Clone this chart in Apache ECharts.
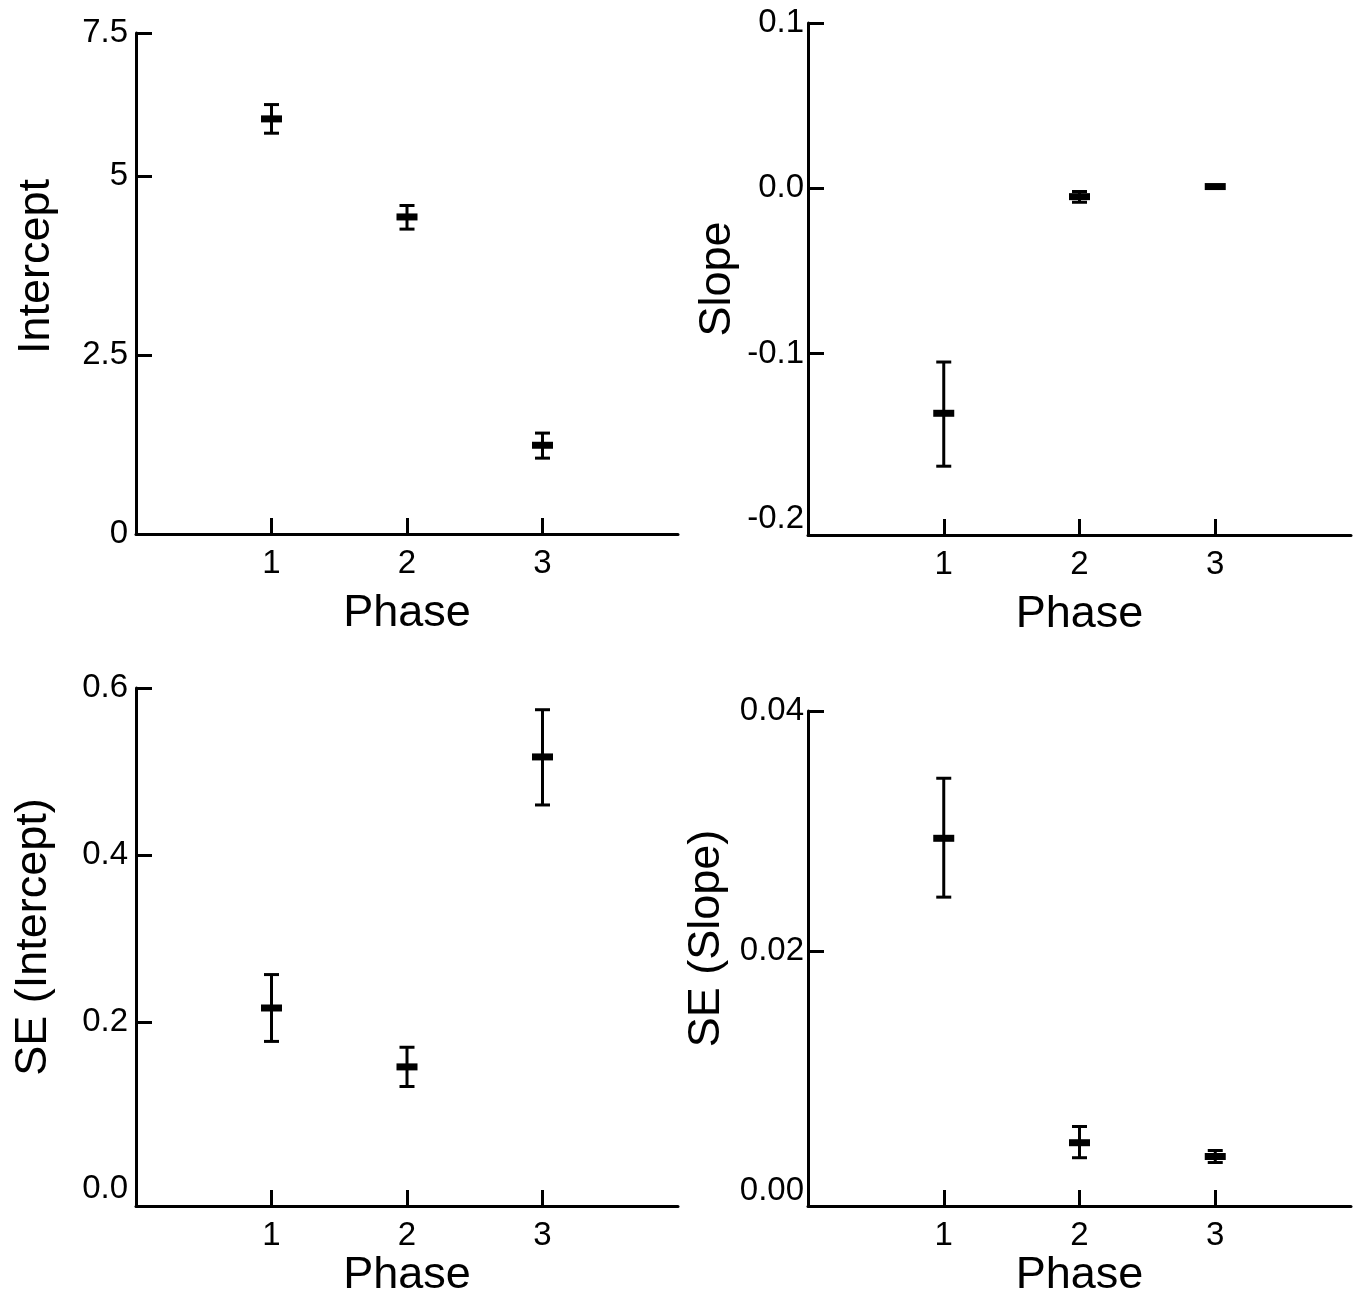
<!DOCTYPE html>
<html>
<head>
<meta charset="utf-8">
<script src="https://cdn.jsdelivr.net/npm/echarts@6/dist/echarts.min.js"></script>
<style>
html,body{margin:0;padding:0;background:#fff;}
#chart{width:1362px;height:1305px;}
</style>
</head>
<body>
<div id="chart"></div>
<script>
// ---- data ----
const phases = [1, 2, 3];

const interceptMean = [5.80, 4.43, 1.24];
const interceptLow  = [5.60, 4.26, 1.06];
const interceptHigh = [6.00, 4.59, 1.41];

const slopeMean = [-0.136, -0.005, 0.0011];
const slopeLow  = [-0.168, -0.0084, 0.0007];
const slopeHigh = [-0.105, -0.0019, 0.0015];

const seInterceptMean = [0.217, 0.1465, 0.5175];
const seInterceptLow  = [0.177, 0.123, 0.460];
const seInterceptHigh = [0.257, 0.170, 0.574];

const seSlopeMean = [0.0294, 0.00405, 0.0029];
const seSlopeLow  = [0.0245, 0.0028, 0.0024];
const seSlopeHigh = [0.0344, 0.0054, 0.0034];

// tick labels (values and texts as printed)
const xTickValues = [1, 2, 3];
const xTickLabels = ['1', '2', '3'];
const interceptTickValues = [0, 2.5, 5, 7.0];
const interceptTickLabels = ['0', '2.5', '5', '7.5'];
const slopeTickValues = [-0.2, -0.1, 0, 0.1];
const slopeTickLabels = ['-0.2', '-0.1', '0.0', '0.1'];
const seInterceptTickValues = [0, 0.2, 0.4, 0.6];
const seInterceptTickLabels = ['0.0', '0.2', '0.4', '0.6'];
const seSlopeTickValues = [0, 0.02, 0.04];
const seSlopeTickLabels = ['0.00', '0.02', '0.04'];

const xName = 'Phase';
const yNames = ['Intercept', 'Slope', 'SE (Intercept)', 'SE (Slope)'];

// ---- build ----
const FONT = 'Liberation Sans, Arial, Helvetica, sans-serif';
const INK = '#000';
const NAME_SIZE = 45;
const TICK_SIZE = 33;

function rows(mean, low, high) {
  return phases.map((p, i) => [p, mean[i], low[i], high[i]]);
}

function renderItem(params, api) {
  const x = api.value(0);
  const pm = api.coord([x, api.value(1)]);
  const pl = api.coord([x, api.value(2)]);
  const ph = api.coord([x, api.value(3)]);
  const st = { stroke: INK, lineWidth: 3 };
  const cap = 7.5;
  return {
    type: 'group',
    children: [
      { type: 'line', shape: { x1: pm[0], y1: pl[1], x2: pm[0], y2: ph[1] }, style: st },
      { type: 'line', shape: { x1: pm[0] - cap, y1: pl[1], x2: pm[0] + cap, y2: pl[1] }, style: st },
      { type: 'line', shape: { x1: pm[0] - cap, y1: ph[1], x2: pm[0] + cap, y2: ph[1] }, style: st },
      { type: 'rect', shape: { x: pm[0] - 10.5, y: pm[1] - 3.5, width: 21, height: 7 }, style: { fill: INK } }
    ]
  };
}

const panels = [
  { grid: { left: 136, top: 33, width: 542, height: 501 }, min: 0, max: 7.0,
    tv: interceptTickValues, tl: interceptTickLabels, data: rows(interceptMean, interceptLow, interceptHigh),
    yGap: 77, yPad: [0, 0, 0, 34], xGap: 57, yMargin: 8 },
  { grid: { left: 808, top: 23, width: 543, height: 512 }, min: -0.2096, max: 0.1,
    tv: slopeTickValues, tl: slopeTickLabels, data: rows(slopeMean, slopeLow, slopeHigh),
    yGap: 68, yPad: [0, 0, 0, 0], xGap: 57, yMargin: 4 },
  { grid: { left: 136, top: 688, width: 542, height: 518 }, min: -0.02, max: 0.6,
    tv: seInterceptTickValues, tl: seInterceptTickLabels, data: rows(seInterceptMean, seInterceptLow, seInterceptHigh),
    yGap: 80, yPad: [0, 0, 0, 20], xGap: 41, yMargin: 8 },
  { grid: { left: 808, top: 711, width: 543, height: 495 }, min: -0.00122, max: 0.04,
    tv: seSlopeTickValues, tl: seSlopeTickLabels, data: rows(seSlopeMean, seSlopeLow, seSlopeHigh),
    yGap: 79, yPad: [0, 0, 0, 40], xGap: 43, yMargin: 4 }
];

const axisLine = { show: true, onZero: false, lineStyle: { color: INK, width: 3 } };

const option = {
  animation: false,
  backgroundColor: '#fff',
  textStyle: { fontFamily: FONT, color: INK },
  grid: panels.map(p => Object.assign({ containLabel: false }, p.grid)),
  xAxis: panels.map((p, i) => ({
    type: 'value', gridIndex: i, min: 0, max: 4,
    name: xName, nameLocation: 'middle', nameGap: p.xGap,
    nameTextStyle: { fontSize: NAME_SIZE, fontFamily: FONT, color: INK },
    axisLine: axisLine,
    axisTick: { show: true, inside: true, length: 16, customValues: xTickValues,
      lineStyle: { color: INK, width: 3 } },
    axisLabel: { show: true, customValues: xTickValues, margin: 13, fontSize: TICK_SIZE, fontFamily: FONT, color: INK,
      formatter: v => xTickLabels[xTickValues.indexOf(v)] },
    splitLine: { show: false }
  })),
  yAxis: panels.map((p, i) => ({
    type: 'value', gridIndex: i, min: p.min, max: p.max,
    name: yNames[i], nameLocation: 'middle', nameGap: p.yGap,
    nameTextStyle: { fontSize: NAME_SIZE, fontFamily: FONT, color: INK, padding: p.yPad },
    axisLine: axisLine,
    axisTick: { show: true, inside: true, length: 16, customValues: p.tv.slice(1),
      lineStyle: { color: INK, width: 3 } },
    axisLabel: { show: true, customValues: p.tv, margin: p.yMargin, fontSize: TICK_SIZE, fontFamily: FONT, color: INK,
      formatter: v => {
        const k = p.tv.findIndex(t => Math.abs(t - v) < 1e-9);
        return k >= 0 ? p.tl[k] : '';
      } },
    splitLine: { show: false }
  })),
  series: panels.map((p, i) => ({
    type: 'custom', xAxisIndex: i, yAxisIndex: i,
    renderItem: renderItem,
    encode: { x: 0, y: [1, 2, 3] },
    data: p.data,
    clip: false
  }))
};

const chart = echarts.init(document.getElementById('chart'), null, { renderer: 'canvas' });
chart.setOption(option);
</script>
</body>
</html>
